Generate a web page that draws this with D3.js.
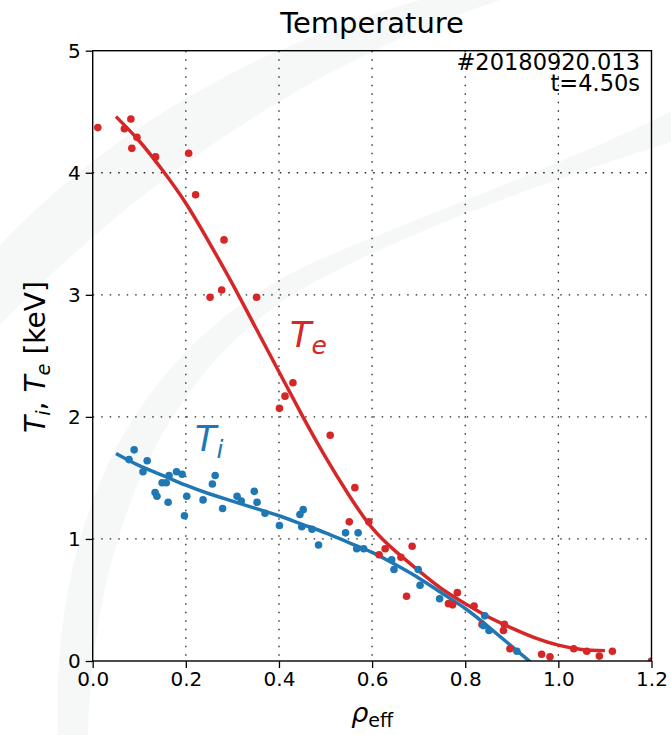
<!DOCTYPE html>
<html>
<head>
<meta charset="utf-8">
<script src="https://cdn.jsdelivr.net/npm/d3@7"></script>
<style>
  body { margin: 0; background: #fff; }
  svg { display: block; font-family: "DejaVu Sans", sans-serif; }
</style>
</head>
<body>
<svg id="chart" width="671" height="735"></svg>
<script>
// measured points, electron temperature
var teRho = [0.011,0.068,0.082,0.084,0.095,0.135,0.206,0.221,0.282,0.252,0.277,0.352,
  0.401,0.413,0.430,0.510,0.563,0.551,0.593,0.615,0.628,0.662,0.686,0.674,
  0.764,0.773,0.783,0.819,0.836,0.884,0.882,0.896,0.964,0.982,1.033,1.061,1.088,1.116,1.200];
var teVal = [4.37,4.36,4.44,4.20,4.29,4.13,4.16,3.82,3.45,2.98,3.04,2.98,
  2.07,2.17,2.28,1.85,1.42,1.14,1.14,0.87,0.92,0.85,0.94,0.53,
  0.47,0.46,0.56,0.45,0.30,0.30,0.25,0.10,0.055,0.035,0.10,0.08,0.04,0.08,0.00];

// measured points, ion temperature
var tiRho = [0.078,0.089,0.117,0.108,0.134,0.138,0.149,0.158,0.164,0.162,0.180,0.192,
  0.202,0.197,0.237,0.257,0.263,0.279,0.310,0.319,0.347,0.353,0.370,0.401,
  0.445,0.452,0.449,0.471,0.485,0.543,0.570,0.567,0.582,0.642,0.647,0.699,
  0.703,0.745,0.842,0.839,0.851,0.911];
var tiVal = [1.65,1.73,1.64,1.55,1.38,1.35,1.46,1.46,1.52,1.30,1.55,1.53,
  1.35,1.19,1.32,1.45,1.52,1.25,1.35,1.31,1.39,1.30,1.21,1.11,
  1.20,1.24,1.10,1.08,0.95,1.05,1.05,0.92,0.92,0.83,0.75,0.75,
  0.62,0.51,0.37,0.29,0.25,0.08];

// fitted profiles
var teFitRho = [0.05,0.1,0.15,0.2,0.25,0.3,0.35,0.4,0.45,0.5,0.55,0.6,0.65,0.7,0.75,0.8,0.85,0.9,0.95,1.0,1.05,1.1];
var teFitVal = [4.46,4.26,4.02,3.75,3.43,3.09,2.73,2.37,2.01,1.67,1.36,1.09,0.90,0.74,0.59,0.47,0.36,0.27,0.19,0.13,0.095,0.085];
var tiFitRho = [0.05,0.1,0.15,0.2,0.25,0.3,0.35,0.4,0.45,0.5,0.55,0.6,0.65,0.7,0.75,0.8,0.85,0.9,0.95];
var tiFitVal = [1.70,1.60,1.52,1.44,1.37,1.31,1.25,1.19,1.12,1.05,0.97,0.89,0.79,0.68,0.555,0.43,0.28,0.12,-0.04];

var xTicks = [0,0.2,0.4,0.6,0.8,1.0,1.2];
var yTicks = [0,1,2,3,4,5];

var red = "#d62728", blue = "#1f77b4";

var svg = d3.select("#chart");
var pL = 92.7, pR = 651.5, pT = 50.7, pB = 661;

var x = d3.scaleLinear().domain([0,1.2]).range([pL,pR]);
var y = d3.scaleLinear().domain([0,5]).range([pB,pT]);

// faint watermark in the background
var wm = svg.append("g").attr("fill","#f6f8f7");
wm.append("path").attr("d","M0,245 C100,140 240,50 420,0 L500,0 C320,60 150,170 0,325 Z");
wm.append("path").attr("d","M58,735 C50,500 150,330 330,255 C450,205 560,165 671,112 L671,142 C520,190 400,235 300,290 C170,370 95,520 88,735 Z");

svg.append("defs").append("clipPath").attr("id","clip")
  .append("rect").attr("x",pL).attr("y",pT).attr("width",pR-pL).attr("height",pB-pT);

// grid
var grid = svg.append("g").attr("stroke","#222").attr("stroke-width",1.3).attr("stroke-dasharray","1.5,7");
grid.selectAll(".gx").data(xTicks.slice(1,-1)).enter().append("line")
  .attr("x1",d => x(d)).attr("x2",d => x(d)).attr("y1",pT).attr("y2",pB);
grid.selectAll(".gy").data(yTicks.slice(1,-1)).enter().append("line")
  .attr("y1",d => y(d)).attr("y2",d => y(d)).attr("x1",pL).attr("x2",pR);

var plot = svg.append("g").attr("clip-path","url(#clip)");
var line = d3.line().x(d => x(d[0])).y(d => y(d[1])).curve(d3.curveNatural);

plot.append("path").datum(d3.zip(teFitRho,teFitVal)).attr("d",line)
  .attr("fill","none").attr("stroke",red).attr("stroke-width",3.5);
plot.append("path").datum(d3.zip(tiFitRho,tiFitVal)).attr("d",line)
  .attr("fill","none").attr("stroke",blue).attr("stroke-width",3.5);

plot.selectAll(".te").data(d3.zip(teRho,teVal)).enter().append("circle")
  .attr("cx",d => x(d[0])).attr("cy",d => y(d[1])).attr("r",3.8).attr("fill",red);
plot.selectAll(".ti").data(d3.zip(tiRho,tiVal)).enter().append("circle")
  .attr("cx",d => x(d[0])).attr("cy",d => y(d[1])).attr("r",3.8).attr("fill",blue);

// frame
svg.append("rect").attr("x",pL).attr("y",pT).attr("width",pR-pL).attr("height",pB-pT)
  .attr("fill","none").attr("stroke","#000").attr("stroke-width",1.4);

var xAxis = svg.append("g").attr("transform","translate(0,"+pB+")")
  .call(d3.axisBottom(x).tickValues(xTicks).tickFormat(d3.format(".1f")).tickSizeInner(7).tickSizeOuter(0).tickPadding(4));
var yAxis = svg.append("g").attr("transform","translate("+pL+",0)")
  .call(d3.axisLeft(y).tickValues(yTicks).tickFormat(d3.format("d")).tickSizeInner(7).tickSizeOuter(0).tickPadding(5));
[xAxis,yAxis].forEach(function(a){
  a.select(".domain").remove();
  a.selectAll(".tick line").attr("stroke","#000").attr("stroke-width",1.3);
  a.selectAll(".tick text").attr("fill","#000").style("font-size","20px").style("font-family","DejaVu Sans");
});

// titles and labels
svg.append("text").attr("x",(pL+pR)/2).attr("y",33).attr("text-anchor","middle")
  .style("font-size","29px").text("Temperature");
svg.append("text").attr("x",640).attr("y",70).attr("text-anchor","end")
  .style("font-size","22.5px").text("#20180920.013");
svg.append("text").attr("x",640).attr("y",91).attr("text-anchor","end")
  .style("font-size","22.5px").text("t=4.50s");

var xl = svg.append("text").attr("x",(pL+pR)/2).attr("y",722).attr("text-anchor","middle")
  .style("font-size","27px");
xl.append("tspan").style("font-style","italic").text("ρ");
xl.append("tspan").attr("dy",5).style("font-size","19px").text("eff");

var yl = svg.append("text").attr("transform","translate(45,357) rotate(-90)").attr("text-anchor","middle")
  .style("font-size","28px");
yl.append("tspan").style("font-style","italic").text("T");
yl.append("tspan").attr("dy",5).style("font-size","19.5px").style("font-style","italic").text("i");
yl.append("tspan").attr("dy",-5).text(", ");
yl.append("tspan").style("font-style","italic").text("T");
yl.append("tspan").attr("dy",5).style("font-size","19.5px").style("font-style","italic").text("e");
yl.append("tspan").attr("dy",-5).text(" [keV]");

var teLab = svg.append("text").attr("x",290).attr("y",347).attr("fill",red).style("font-size","35px").style("font-style","italic");
teLab.append("tspan").text("T");
teLab.append("tspan").attr("dy",7).style("font-size","25px").text("e");

var tiLab = svg.append("text").attr("x",195).attr("y",451).attr("fill",blue).style("font-size","35px").style("font-style","italic");
tiLab.append("tspan").text("T");
tiLab.append("tspan").attr("dy",7).style("font-size","25px").text("i");
</script>
</body>
</html>
